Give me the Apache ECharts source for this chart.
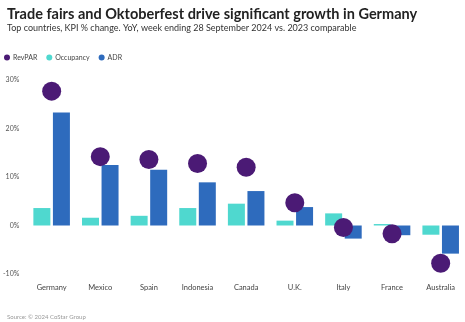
<!DOCTYPE html>
<html><head><meta charset="utf-8">
<script src="https://cdn.jsdelivr.net/npm/echarts@6/dist/echarts.min.js"></script>
<style>html,body{margin:0;padding:0;background:#fff}#c{width:465px;height:322px}</style>
</head><body><div id="c"></div>
<script>
const categories = ["Germany","Mexico","Spain","Indonesia","Canada","U.K.","Italy","France","Australia"];
const revpar = [27.7, 14.2, 13.6, 12.8, 12.0, 4.7, -0.4, -1.7, -7.8];
const occupancy = [3.6, 1.6, 2.0, 3.6, 4.5, 1.0, 2.5, 0.3, -1.9];
const adr = [23.3, 12.5, 11.5, 8.9, 7.1, 3.8, -2.7, -2.0, -5.8];
const yTicks = [-10, 0, 10, 20, 30];

const FONT = "Lato";
const chart = echarts.init(document.getElementById('c'), null, {renderer:'canvas'});
chart.setOption({
  animation:false,
  backgroundColor:'#fff',
  title:[
    {text:'Trade fairs and Oktoberfest drive significant growth in Germany', left:2, top:2,
     textStyle:{fontFamily:FONT, fontWeight:'bold', fontSize:14.5, color:'#222'}},
    {text:'Top countries, KPI % change. YoY, week ending 28 September 2024 vs. 2023 comparable', left:2, top:19,
     textStyle:{fontFamily:FONT, fontWeight:'normal', fontSize:9, color:'#333'}},
    {text:'Source: © 2024 CoStar Group', left:2, top:309,
     textStyle:{fontFamily:FONT, fontWeight:'normal', fontSize:6, color:'#999'}}
  ],
  legend:{left:-1, top:49, icon:'circle', itemWidth:6, itemHeight:6, itemGap:9,
    textStyle:{fontFamily:FONT, fontSize:7, color:'#444', padding:[0,0,0,-2]},
    data:['RevPAR','Occupancy','ADR']},
  grid:{left:26, width:440, top:80, bottom:48, containLabel:false},
  xAxis:{type:'category', data:categories,
    axisLine:{show:false}, axisTick:{show:false},
    axisLabel:{fontFamily:FONT, fontSize:7.5, color:'#444', margin:10}},
  yAxis:{type:'value', min:-10, max:30, interval:10,
    splitLine:{show:false}, axisLine:{show:false}, axisTick:{show:false},
    axisLabel:{fontFamily:FONT, fontSize:7, color:'#555', formatter:v=>v+'%', margin:8}},
  series:[
    {name:'Occupancy', type:'bar', data:occupancy, barWidth:17, barGap:'15%',
     itemStyle:{color:'#4fd8cf'}, z:2},
    {name:'ADR', type:'bar', data:adr, barWidth:17, barGap:'15%',
     itemStyle:{color:'#2e6bbd'}, z:2},
    {name:'RevPAR', type:'scatter', data:revpar, symbolSize:19,
     itemStyle:{color:'#4b1a75', opacity:1}, z:5}
  ]
});
</script></body></html>
